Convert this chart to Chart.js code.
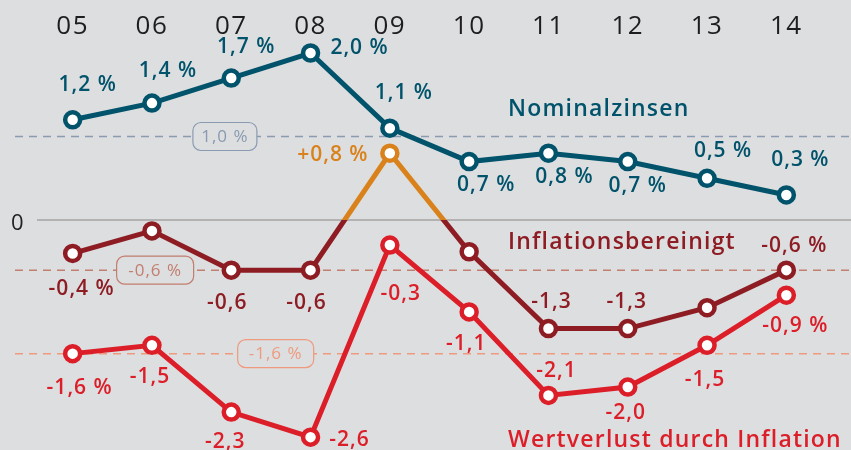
<!DOCTYPE html>
<html>
<head>
<meta charset="utf-8">
<script src="https://cdn.jsdelivr.net/npm/chart.js@4.4.0/dist/chart.umd.min.js"></script>
<style>
html, body { margin: 0; padding: 0; background: #dddee0; overflow: hidden; }
canvas { display: block; }
</style>
</head>
<body>
<canvas id="chart" width="851" height="450"></canvas>
<script>
// data
const years = ['05', '06', '07', '08', '09', '10', '11', '12', '13', '14'];
const nominal = [1.2, 1.4, 1.7, 2.0, 1.1, 0.7, 0.8, 0.7, 0.5, 0.3];
const realRate = [-0.4, -0.13, -0.6, -0.6, 0.8, -0.38, -1.3, -1.3, -1.05, -0.6];
const inflationLoss = [-1.6, -1.5, -2.3, -2.6, -0.3, -1.1, -2.1, -2.0, -1.5, -0.9];
const nominalLabels = ['1,2 %', '1,4 %', '1,7 %', '2,0 %', '1,1 %', '0,7 %', '0,8 %', '0,7 %', '0,5 %', '0,3 %'];
const realLabels = ['-0,4 %', '', '-0,6', '-0,6', '+0,8 %', '', '-1,3', '-1,3', '', '-0,6 %'];
const lossLabels = ['-1,6 %', '-1,5', '-2,3', '-2,6', '-0,3', '-1,1', '-2,1', '-2,0', '-1,5', '-0,9 %'];
const averages = [1.0, -0.6, -1.6];
const averageLabels = ['1,0 %', '-0,6 %', '-1,6 %'];
const seriesNames = ['Nominalzinsen', 'Inflationsbereinigt', 'Wertverlust durch Inflation'];

// colours
const BG = '#dddee0';
const TEAL = '#00536b';
const DARKRED = '#8d1c23';
const RED = '#dc1e29';
const ORANGE = '#d9821c';

// label offsets (pixels from the point)
const nominalOff = [[15,-35],[16,-32],[15,-31],[49,-5],[14,-35],[17,23],[16,24],[10,24],[16,-27],[14,-35]];
const realOff = [[9,36],[0,0],[-4,33],[-4,33],[-57,2],[0,0],[3,-27],[-1,-27],[0,0],[8,-24]];
const lossOff = [[7,34],[-2,32],[-6,30],[39,3],[11,49],[-3,32],[8,-24],[-2,26],[-2,35],[9,31]];

const avgStyle = [
  { color: '#8a9ab0', idx: 1.92, w: 64 },
  { color: '#c27e6e', idx: 1.04, w: 77 },
  { color: '#ef9a7e', idx: 2.56, w: 76 }
];
const nameStyle = [
  { color: TEAL, y: 1.32 },
  { color: DARKRED, y: -0.27 },
  { color: RED, y: -2.64 }
];

const FONT = '"Open Sans", Lato, sans-serif';

const decor = {
  id: 'decor',
  beforeDraw(chart) {
    chart.ctx.letterSpacing = '1.5px';
  },
  beforeDatasetsDraw(chart) {
    const { ctx, scales: { x, y } } = chart;
    ctx.save();
    // zero line
    const y0 = y.getPixelForValue(0);
    ctx.strokeStyle = '#a3a3a5';
    ctx.lineWidth = 1.5;
    ctx.beginPath();
    ctx.moveTo(37, y0);
    ctx.lineTo(chart.width, y0);
    ctx.stroke();
    ctx.fillStyle = '#222';
    ctx.font = '22px ' + FONT;
    ctx.textAlign = 'center';
    ctx.textBaseline = 'middle';
    ctx.fillText('0', 18, y0 + 4);
    // average lines
    averages.forEach((v, i) => {
      const st = avgStyle[i];
      const py = y.getPixelForValue(v);
      ctx.strokeStyle = st.color;
      ctx.lineWidth = 1.5;
      ctx.setLineDash([8, 6]);
      ctx.beginPath();
      ctx.moveTo(15, py);
      ctx.lineTo(chart.width, py);
      ctx.stroke();
      ctx.setLineDash([]);
      const px = x.getPixelForValue(0) + st.idx * (x.getPixelForValue(1) - x.getPixelForValue(0));
      ctx.fillStyle = BG;
      ctx.lineWidth = 1.2;
      ctx.beginPath();
      ctx.roundRect(px - st.w / 2, py - 14, st.w, 28, 8);
      ctx.fill();
      ctx.stroke();
      ctx.fillStyle = st.color;
      ctx.letterSpacing = '1px';
      ctx.font = '17px ' + FONT;
      ctx.fillText(averageLabels[i], px, py + 1);
    });
    ctx.restore();
  },
  afterDatasetsDraw(chart) {
    const { ctx, scales: { y } } = chart;
    ctx.save();
    ctx.letterSpacing = '1px';
    ctx.textAlign = 'center';
    ctx.textBaseline = 'middle';
    ctx.font = '600 21px ' + FONT;
    const sets = [
      [nominalLabels, nominalOff, () => TEAL],
      [realLabels, realOff, (i) => realRate[i] > 0 ? ORANGE : DARKRED],
      [lossLabels, lossOff, () => RED]
    ];
    sets.forEach(([labels, off, col], di) => {
      const meta = chart.getDatasetMeta(di);
      meta.data.forEach((pt, i) => {
        if (!labels[i]) return;
        ctx.fillStyle = col(i);
        ctx.fillText(labels[i], pt.x + off[i][0], pt.y + off[i][1]);
      });
    });
    ctx.textAlign = 'left';
    ctx.letterSpacing = '1.2px';
    ctx.font = '600 23px ' + FONT;
    seriesNames.forEach((n, i) => {
      ctx.fillStyle = nameStyle[i].color;
      ctx.fillText(n, 508, y.getPixelForValue(nameStyle[i].y));
    });
    ctx.restore();
  }
};

function realLineColor(c) {
  const chart = c.chart;
  const area = chart.chartArea;
  if (!area) return DARKRED;
  const y0 = chart.scales.y.getPixelForValue(0);
  const stop = Math.min(1, Math.max(0, (y0 - area.top) / (area.bottom - area.top)));
  const g = chart.ctx.createLinearGradient(0, area.top, 0, area.bottom);
  g.addColorStop(0, ORANGE);
  g.addColorStop(stop, ORANGE);
  g.addColorStop(stop, DARKRED);
  g.addColorStop(1, DARKRED);
  return g;
}

const lineStyle = {
  borderWidth: 5,
  pointRadius: 7.5,
  pointHoverRadius: 7.5,
  pointBorderWidth: 4.5,
  pointBackgroundColor: '#fff',
  tension: 0,
  fill: false,
  clip: 12
};

new Chart(document.getElementById('chart'), {
  type: 'line',
  data: {
    labels: years,
    datasets: [
      Object.assign({ label: seriesNames[0], data: nominal, borderColor: TEAL, pointBorderColor: TEAL }, lineStyle),
      Object.assign({ label: seriesNames[1], data: realRate, borderColor: realLineColor,
        pointBorderColor: realRate.map(v => v > 0 ? ORANGE : DARKRED) }, lineStyle),
      Object.assign({ label: seriesNames[2], data: inflationLoss, borderColor: RED, pointBorderColor: RED }, lineStyle)
    ]
  },
  options: {
    responsive: false,
    animation: false,
    layout: { autoPadding: false, padding: { left: 33, right: 25, top: 0, bottom: 0 } },
    plugins: { legend: { display: false }, tooltip: { enabled: false } },
    scales: {
      x: {
        position: 'top',
        offset: true,
        grid: { display: false, drawTicks: false },
        border: { display: false },
        ticks: { color: '#1e1e1e', padding: 3, font: { family: FONT, size: 26 } },
        afterFit: (s) => { s.height = 45; }
      },
      y: {
        display: false,
        min: -2.754,
        max: 2.096
      }
    }
  },
  plugins: [decor]
});
</script>
</body>
</html>
